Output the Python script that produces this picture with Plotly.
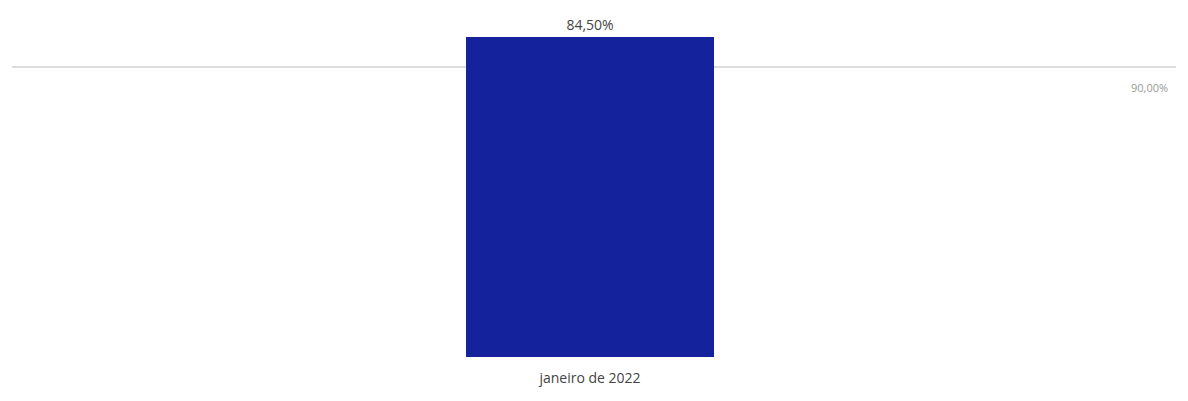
import plotly.graph_objects as go

categories = ["janeiro de 2022"]
values = [84.5]
target = 90.0
target_label = "90,00%"
value_labels = ["84,50%"]

fig = go.Figure()
fig.add_trace(go.Scatter(
    x=[0, 1], y=[target, target], mode="lines",
    line=dict(color="#dcdcdc", width=2),
    xaxis="x", yaxis="y", showlegend=False, hoverinfo="skip",
))
fig.add_trace(go.Bar(
    x=categories, y=values, width=0.213,
    marker=dict(color="#14239b", line=dict(width=0)),
    text=value_labels, textposition="outside", cliponaxis=False,
    textfont=dict(size=14, color="#444444", family="Open Sans"),
    xaxis="x2", yaxis="y2", showlegend=False,
))
fig.add_annotation(
    x=0.995, xref="paper", y=target, yref="y", yshift=-20,
    text=target_label, showarrow=False, xanchor="right",
    font=dict(size=11, color="#9a9a9a", family="Open Sans"),
)

plot_h = 393 - 12 - 44
bar_px = 320
line_px = 290
fig.update_layout(
    width=1180, height=393,
    margin=dict(l=4, r=12, t=12, b=44),
    paper_bgcolor="white", plot_bgcolor="white",
    bargap=0,
    xaxis=dict(range=[0, 1], visible=False),
    yaxis=dict(range=[0, target * plot_h / line_px], visible=False),
    xaxis2=dict(range=[-0.4966, 0.5034], overlaying="x", side="bottom",
                showgrid=False, zeroline=False, showline=False, ticks="",
                ticklabelstandoff=11,
                tickfont=dict(size=14, color="#444444", family="Open Sans")),
    yaxis2=dict(range=[0, values[0] * plot_h / bar_px], overlaying="y", visible=False),
)
fig.write_html("out.html")
